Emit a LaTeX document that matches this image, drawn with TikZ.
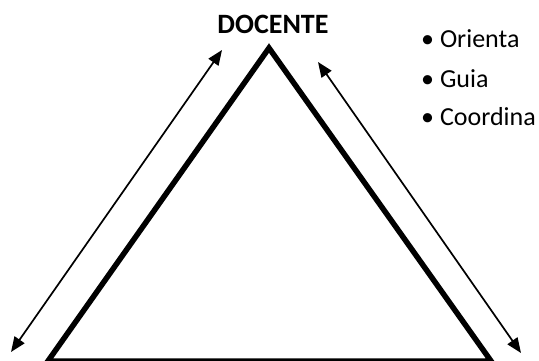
\documentclass[tikz,border=0pt]{standalone}
\usepackage{fontspec}
\setmainfont{Carlito}
\usetikzlibrary{arrows.meta}
\tikzset{
  side/.style={line width=5.5pt, line join=miter},
  link/.style={line width=1.7pt, {Triangle[length=15pt,width=12pt]}-{Triangle[length=15pt,width=12pt]}},
  label/.style={inner sep=0pt, anchor=base west, font=\fontsize{26}{30}\selectfont},
}
\begin{document}
\begin{tikzpicture}[x=1pt,y=-1pt]
  \useasboundingbox (0,0) rectangle (539,360);
  \begin{scope}
    \clip (0,0) rectangle (539,360);
    % corners of the triangle
    \coordinate (apex) at (269,48);
    \coordinate (left) at (48,361);
    \coordinate (right) at (491,361);
    \draw[side] (left) -- (apex) -- (right) -- cycle;
  \end{scope}
  % title
  \node[inner sep=0pt, font=\bfseries\fontsize{28}{32}\selectfont, anchor=base] (docente) at (273,33) {DOCENTE};
  % two-way links
  \coordinate (la) at (222,50);
  \coordinate (lb) at (11,352);
  \coordinate (ra) at (318,62);
  \coordinate (rb) at (521,353);
  \draw[link] (lb) -- (la);
  \draw[link] (ra) -- (rb);
  % roles
  \node[label] (o) at (421,47) {\textbullet\ Orienta};
  \node[label] (g) at (421,87) {\textbullet\ Guia};
  \node[label] (c) at (421,125) {\textbullet\ Coordina};
\end{tikzpicture}
\end{document}
